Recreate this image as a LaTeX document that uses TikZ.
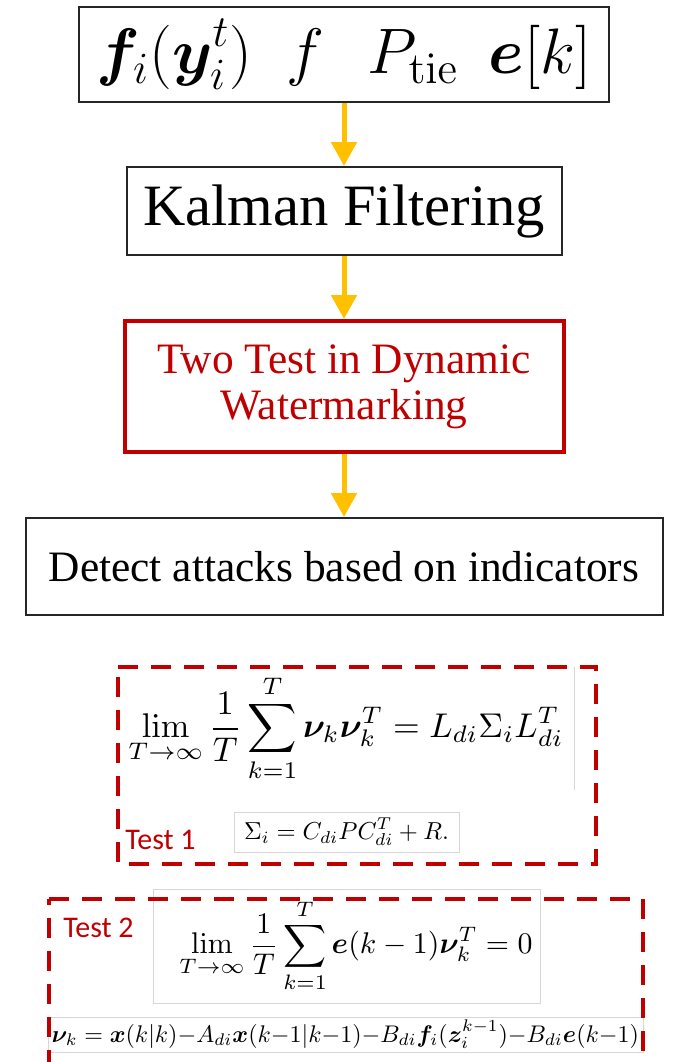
\documentclass[tikz,border=0pt]{standalone}
\usepackage{amsmath,bm}
\usepackage[no-math]{fontspec}
\setmainfont{Liberation Serif}
\newfontfamily\calibri{Carlito}
\usepackage{tikz}
\usetikzlibrary{positioning,arrows.meta}

\definecolor{wmred}{RGB}{192,0,0}
\definecolor{wmgold}{RGB}{255,192,0}
\definecolor{eqgray}{RGB}{215,215,215}

% display formula squeezed to a given width
\newcommand{\eqfit}[2]{\resizebox{#1}{!}{$\displaystyle #2$}}

\begin{document}
\begin{tikzpicture}[
    x=0.5pt, y=-0.5pt,
    node distance=31.5pt,
    box/.style={
        draw=black!85,
        line width=1pt,
        rectangle,
        inner sep=0pt,
        align=center,
        font=\fontsize{21.7}{23}\selectfont
    },
    flow/.style={wmgold, line width=2.5pt, -{Triangle[width=12.5pt,length=12pt]}},
    eqframe/.style={draw=eqgray, line width=0.5pt, inner sep=0pt},
    testbox/.style={wmred, line width=1.75pt, dash pattern=on 10pt off 6.5pt},
    testlabel/.style={text=wmred, font=\calibri\fontsize{15}{18}\selectfont, inner sep=0pt, anchor=base west}
]
\useasboundingbox (0,0) rectangle (673,1062);

% processing chain
\node[box, minimum width=265pt, minimum height=47.5pt] (inputs) at (344,54.5)
    {\eqfit{247.5pt}{\bm{f}_i(\bm{y}_i^t)\hspace{0.5em}f\hspace{0.65em}P_{\mathrm{tie}}\hspace{0.45em}\bm{e}[k]}};
\node[box, minimum width=217.5pt, minimum height=44pt, below=of inputs,
    font=\fontsize{29.3}{32}\selectfont] (kalman) {Kalman Filtering};
\node[box, draw=wmred, line width=2pt, text=wmred, minimum width=219.5pt,
    minimum height=65.5pt, below=of kalman] (twotest) {Two Test in Dynamic\\Watermarking};
\node[box, minimum width=318.5pt, minimum height=48.5pt, below=of twotest] (detect)
    {Detect attacks based on indicators};

\draw[flow] (inputs) -- (kalman);
\draw[flow] (kalman) -- (twotest);
\draw[flow] (twotest) -- (detect);

% test 1
\node[inner sep=0pt, minimum width=228pt, minimum height=61.5pt] (limone) at (346,728.5)
    {\eqfit{217.5pt}{\lim_{T\to\infty}\frac{1}{T}\sum_{k=1}^{T}\bm{\nu}_k\bm{\nu}_k^T = L_{di}\Sigma_i L_{di}^T}};
\draw[eqgray, line width=0.5pt] (limone.north east) -- (limone.south east);
\node[eqframe, minimum width=112.5pt, minimum height=20pt] (sigma) at (346.5,832)
    {\eqfit{102.5pt}{\Sigma_i = C_{di}PC_{di}^T + R.}};
\node[testlabel] (testone) at (125,849) {Test 1};
\draw[testbox] (118,667) -- (596,667) -- (596,864) -- (118,864) -- cycle;

% test 2
\node[eqframe, minimum width=193.5pt, minimum height=57pt] (limtwo) at (346.5,946)
    {\hspace*{9.5pt}\eqfit{176.5pt}{\lim_{T\to\infty}\frac{1}{T}\sum_{k=1}^{T}\bm{e}(k-1)\bm{\nu}_k^T = 0}};
\node[eqframe, minimum width=297.5pt, minimum height=17.5pt] (innov) at (345.5,1034.5)
    {\eqfit{293.5pt}{\bm{\nu}_k = \bm{x}(k|k){-}A_{di}\bm{x}(k{-}1|k{-}1){-}B_{di}\bm{f}_i(\bm{z}_i^{k-1}){-}B_{di}\bm{e}(k{-}1)}};
\node[testlabel] (testtwo) at (63,937) {Test 2};
\draw[testbox] (49,899) -- (643,899) -- (643,1100) -- (49,1100) -- cycle;

\end{tikzpicture}
\end{document}
